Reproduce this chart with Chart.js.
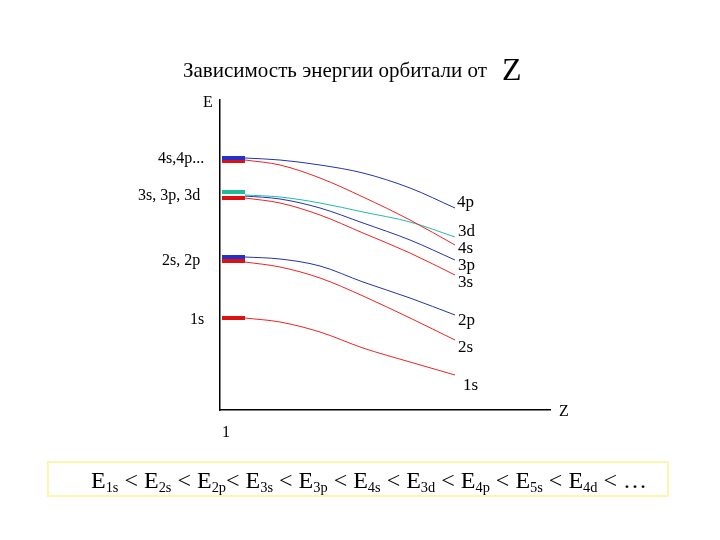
<!DOCTYPE html>
<html><head><meta charset="utf-8">
<script src="https://cdn.jsdelivr.net/npm/chart.js@4"></script>
<style>
body{margin:0;background:#fff;font-family:"Liberation Serif","DejaVu Serif",serif;}
#w{position:relative;width:720px;height:540px;}
canvas{position:absolute;left:0;top:0;}
.t{position:absolute;color:#000;white-space:nowrap;line-height:1;}
sub{font-size:60%;vertical-align:-0.25em;}
</style></head><body>
<div id="w"><canvas id="c" width="720" height="540"></canvas>
<div class="t" style="left:183px;top:50px;font-size:21px;">Зависимость энергии орбитали от <span style="font-size:32px;position:relative;top:3px;margin-left:10px;">Z</span></div>
<div class="t" style="left:203px;top:94px;font-size:16px;">E</div>
<div class="t" style="left:158px;top:150px;font-size:16px;">4s,4p...</div>
<div class="t" style="left:138px;top:187px;font-size:16px;">3s, 3p, 3d</div>
<div class="t" style="left:162px;top:252px;font-size:16px;">2s, 2p</div>
<div class="t" style="left:190px;top:311px;font-size:16px;">1s</div>
<div class="t" style="left:457px;top:193px;font-size:17px;">4p</div>
<div class="t" style="left:458px;top:222px;font-size:17px;">3d</div>
<div class="t" style="left:458px;top:239px;font-size:17px;">4s</div>
<div class="t" style="left:458px;top:256px;font-size:17px;">3p</div>
<div class="t" style="left:458px;top:273px;font-size:17px;">3s</div>
<div class="t" style="left:458px;top:311px;font-size:17px;">2p</div>
<div class="t" style="left:458px;top:338px;font-size:17px;">2s</div>
<div class="t" style="left:463px;top:376px;font-size:17px;">1s</div>
<div class="t" style="left:559px;top:403px;font-size:16px;">Z</div>
<div class="t" style="left:222px;top:424px;font-size:16px;">1</div>
<div class="t" style="left:47px;top:461px;width:622px;height:36px;border:2px solid #fcf6b0;box-sizing:border-box;font-size:24px;padding-top:5px;padding-left:42px;">E<sub>1s</sub> &lt; E<sub>2s</sub> &lt; E<sub>2p</sub>&lt; E<sub>3s</sub> &lt; E<sub>3p</sub> &lt; E<sub>4s</sub> &lt; E<sub>3d</sub> &lt; E<sub>4p</sub> &lt; E<sub>5s</sub> &lt; E<sub>4d</sub> &lt; …</div>
</div>
<script>
const Z = [25, 60, 100, 143, 190, 235];
const E4p = [252, 250, 245, 237, 222, 202];
const E4s = [250, 245, 232, 213, 190, 165];
const E3d = [215, 213, 207, 198, 188, 173];
const E3p = [214, 211, 202, 187, 170, 150];
const E3s = [212, 207, 195, 177, 157, 135];
const E2p = [153, 151, 144, 128, 112, 95];
const E2s = [148, 143, 132, 114, 92, 70];
const E1s = [92, 88, 78, 62, 48, 35];
const levels = [[252,'#2233cc'],[249,'#dd1111'],[218,'#22bb99'],[212,'#dd1111'],[153,'#2233cc'],[149,'#dd1111'],[92,'#dd1111']];
const BLUE='#2233aa', RED='#ee2222', CYAN='#22bbaa';
function curve(y,c){return {data:Z.map((z,i)=>({x:z,y:y[i]})),borderColor:c,borderWidth:1,pointRadius:0,cubicInterpolationMode:'monotone',fill:false};}
const ds=[curve(E4p,BLUE),curve(E4s,RED),curve(E3d,CYAN),curve(E3p,BLUE),curve(E3s,RED),curve(E2p,BLUE),curve(E2s,RED),curve(E1s,RED)];
levels.forEach(([e,c])=>ds.push({data:[{x:2,y:e},{x:25,y:e}],borderColor:c,borderWidth:4,pointRadius:0,fill:false}));
new Chart(document.getElementById('c'),{type:'line',data:{datasets:ds},
options:{responsive:false,animation:false,
layout:{padding:{left:212,top:100,right:170,bottom:122}},
plugins:{legend:{display:false},tooltip:{enabled:false}},
scales:{x:{type:'linear',min:0,max:330,ticks:{display:false},grid:{display:false},border:{display:true,color:'#000',width:1.5}},
y:{min:0,max:310,ticks:{display:false},grid:{display:false},border:{display:true,color:'#000',width:1.5}}}}});
</script></body></html>
